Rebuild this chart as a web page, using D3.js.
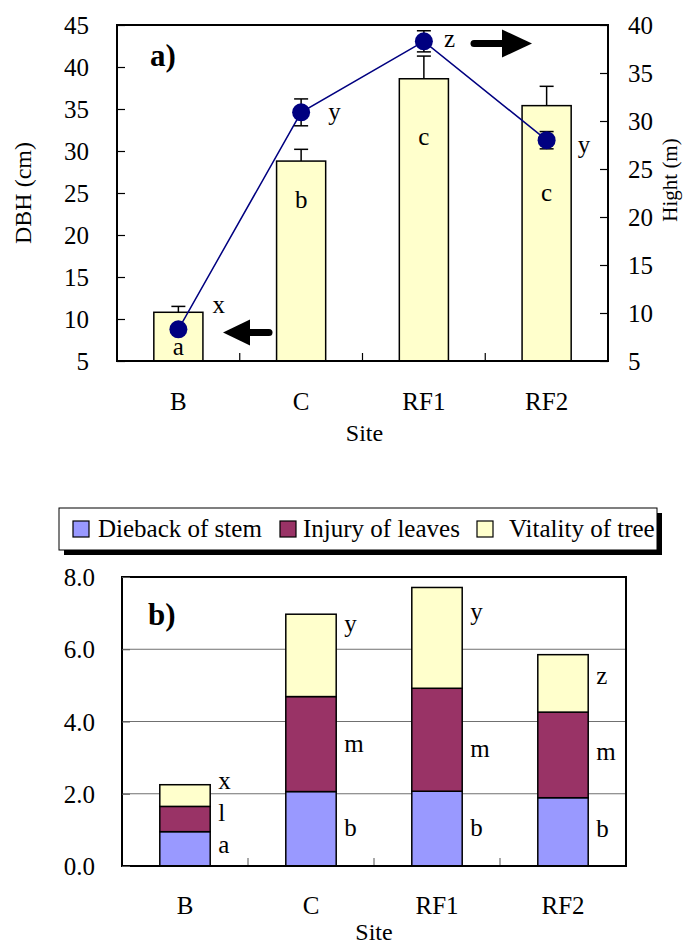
<!DOCTYPE html>
<html>
<head>
<meta charset="utf-8">
<script src="https://cdn.jsdelivr.net/npm/d3@7"></script>
<style>
  body { margin: 0; background: #fff; }
  svg text { font-family: "Liberation Serif", "Times New Roman", serif; fill: #000; }
</style>
</head>
<body>
<script>
// ---- data ----
var sites = ["B", "C", "RF1", "RF2"];

// panel a
var dbh = [10.8, 28.8, 38.6, 35.4];
var dbhErr = [0.7, 1.4, 2.7, 2.3];
var dbhLetters = ["a", "b", "c", "c"];
var dbhLetterAt = [5.7, 23.2, 30.7, 24.0];      // value where the letter sits
var height = [8.3, 30.9, 38.3, 28.0];
var heightErr = [0.3, 1.4, 1.1, 0.9];
var heightLetters = ["x", "y", "z", "y"];
var heightLetterAt = [10.0, 30.1, 37.7, 26.7];
var dbhTicks = [5, 10, 15, 20, 25, 30, 35, 40, 45];
var heightTicks = [5, 10, 15, 20, 25, 30, 35, 40];

// panel b
var seriesNames = ["Dieback of stem", "Injury of leaves", "Vitality of tree"];
var dieback = [0.95, 2.06, 2.07, 1.89];
var injury = [0.70, 2.63, 2.85, 2.37];
var vitality = [0.60, 2.28, 2.79, 1.59];
var diebackLetters = ["a", "b", "b", "b"];
var injuryLetters = ["l", "m", "m", "m"];
var vitalityLetters = ["x", "y", "y", "z"];
var declineTicks = [0, 2, 4, 6, 8];

// ---- layout ----
var W = 683, H = 946;
var colors = ["#9999FF", "#993366", "#FFFFCC"];
var svg = d3.select("body").append("svg").attr("width", W).attr("height", H);

// ================= panel a =================
var a = { left: 117, right: 608, top: 25, bottom: 361 };

var xA = d3.scaleBand().domain(sites).range([a.left, a.right]).paddingInner(0.6).paddingOuter(0.3);
var yL = d3.scaleLinear().domain([5, 45]).range([a.bottom, a.top]);
var yR = d3.scaleLinear().domain([5, 40]).range([a.bottom, a.top]);

var gA = svg.append("g");

// bars
gA.selectAll("rect.bar").data(sites).enter().append("rect")
    .attr("x", function(d) { return xA(d); })
    .attr("y", function(d, i) { return yL(dbh[i]); })
    .attr("width", xA.bandwidth())
    .attr("height", function(d, i) { return yL(5) - yL(dbh[i]); })
    .style("fill", "#FFFFCC").style("stroke", "#000").style("stroke-width", 1.5);

// dbh error bars (upper only)
sites.forEach(function(s, i) {
    var cx = xA(s) + xA.bandwidth() / 2;
    gA.append("line").attr("x1", cx).attr("x2", cx).attr("y1", yL(dbh[i])).attr("y2", yL(dbh[i] + dbhErr[i]))
        .style("stroke", "#000").style("stroke-width", 1.5);
    gA.append("line").attr("x1", cx - 7).attr("x2", cx + 7).attr("y1", yL(dbh[i] + dbhErr[i])).attr("y2", yL(dbh[i] + dbhErr[i]))
        .style("stroke", "#000").style("stroke-width", 1.5);
});

// bar letters
gA.selectAll("text.barl").data(sites).enter().append("text")
    .attr("x", function(d) { return xA(d) + xA.bandwidth() / 2; })
    .attr("y", function(d, i) { return yL(dbhLetterAt[i]); })
    .attr("text-anchor", "middle").style("font-size", "25px")
    .text(function(d, i) { return dbhLetters[i]; });

// separators along the bottom
var sepA = sites.slice(1).map(function(s) { return xA(s) - xA.step() * xA.paddingInner() / 2; });
sepA.forEach(function(x) {
    gA.append("line").attr("x1", x).attr("x2", x).attr("y1", a.bottom).attr("y2", a.bottom - 8)
        .style("stroke", "#000").style("stroke-width", 1.2);
});

// height line + points
var line = d3.line()
    .x(function(d, i) { return xA(sites[i]) + xA.bandwidth() / 2; })
    .y(function(d) { return yR(d); });
gA.append("path").datum(height).attr("d", line)
    .style("fill", "none").style("stroke", "#000080").style("stroke-width", 1.5);

sites.forEach(function(s, i) {
    var cx = xA(s) + xA.bandwidth() / 2;
    var hi = yR(height[i] + heightErr[i]), lo = yR(height[i] - heightErr[i]);
    gA.append("line").attr("x1", cx).attr("x2", cx).attr("y1", hi).attr("y2", lo)
        .style("stroke", "#000").style("stroke-width", 1.5);
    [hi, lo].forEach(function(y) {
        gA.append("line").attr("x1", cx - 7).attr("x2", cx + 7).attr("y1", y).attr("y2", y)
            .style("stroke", "#000").style("stroke-width", 1.5);
    });
});
gA.selectAll("circle.pt").data(height).enter().append("circle")
    .attr("cx", function(d, i) { return xA(sites[i]) + xA.bandwidth() / 2; })
    .attr("cy", function(d) { return yR(d); })
    .attr("r", 9).style("fill", "#000080");

var hDx = [34, 27, 20, 31];
gA.selectAll("text.hl").data(sites).enter().append("text")
    .attr("x", function(d, i) { return xA(d) + xA.bandwidth() / 2 + hDx[i]; })
    .attr("y", function(d, i) { return yR(heightLetterAt[i]); })
    .style("font-size", "25px")
    .text(function(d, i) { return heightLetters[i]; });

// arrows
var ay1 = 332.5, ax1 = 223;
gA.append("path").attr("d", "M" + ax1 + "," + ay1 + "L" + (ax1 + 27) + "," + (ay1 - 13) + "L" + (ax1 + 27) + "," + (ay1 + 13) + "Z").style("fill", "#000");
gA.append("line").attr("x1", ax1 + 24).attr("x2", ax1 + 46).attr("y1", ay1).attr("y2", ay1)
    .style("stroke", "#000").style("stroke-width", 7).style("stroke-linecap", "round");
var ay2 = 43.5, ax2 = 532;
gA.append("path").attr("d", "M" + ax2 + "," + ay2 + "L" + (ax2 - 30) + "," + (ay2 - 14) + "L" + (ax2 - 30) + "," + (ay2 + 14) + "Z").style("fill", "#000");
gA.append("line").attr("x1", ax2 - 26).attr("x2", ax2 - 58).attr("y1", ay2).attr("y2", ay2)
    .style("stroke", "#000").style("stroke-width", 7).style("stroke-linecap", "round");

// frame
gA.append("rect").attr("x", a.left).attr("y", a.top).attr("width", a.right - a.left).attr("height", a.bottom - a.top)
    .style("fill", "none").style("stroke", "#000").style("stroke-width", 2);

// axes
var axL = gA.append("g").attr("transform", "translate(" + a.left + ",0)")
    .call(d3.axisLeft(yL).tickValues(dbhTicks).tickSizeInner(-8).tickSizeOuter(0).tickPadding(28));
var axR = gA.append("g").attr("transform", "translate(" + a.right + ",0)")
    .call(d3.axisRight(yR).tickValues(heightTicks).tickSizeInner(-8).tickSizeOuter(0).tickPadding(20));
var axB = gA.append("g").attr("transform", "translate(0," + a.bottom + ")")
    .call(d3.axisBottom(xA).tickSize(0).tickPadding(31));
[axL, axR, axB].forEach(function(ax) {
    ax.select(".domain").remove();
    ax.selectAll("line").style("stroke", "#000").style("stroke-width", 1.2);
    ax.selectAll("text").style("font-size", "25px").style("font-family", "Liberation Serif");
});
axL.selectAll("text").attr("dy", "0.34em");
axR.selectAll("text").attr("dy", "0.34em");

gA.append("text").attr("x", 150).attr("y", 66).style("font-size", "31px").style("font-weight", "bold").text("a)");
gA.append("text").attr("x", (a.left + a.right) / 2 + 2).attr("y", 441).attr("text-anchor", "middle")
    .style("font-size", "24px").text("Site");
gA.append("text").attr("transform", "translate(31,193) rotate(-90)").attr("text-anchor", "middle")
    .style("font-size", "24px").text("DBH (cm)");
gA.append("text").attr("transform", "translate(677,180) rotate(-90)").attr("text-anchor", "middle")
    .style("font-size", "21px").text("Hight (m)");

// ================= legend =================
var lg = svg.append("g");
lg.append("rect").attr("x", 64).attr("y", 513).attr("width", 598).attr("height", 42).style("fill", "#000");
lg.append("rect").attr("x", 59).attr("y", 508).attr("width", 598).attr("height", 42)
    .style("fill", "#fff").style("stroke", "#000").style("stroke-width", 1);
var legX = [73, 280, 477], legDx = [25, 23, 32];
seriesNames.forEach(function(n, i) {
    lg.append("rect").attr("x", legX[i]).attr("y", 521).attr("width", 16).attr("height", 16)
        .style("fill", colors[i]).style("stroke", "#000").style("stroke-width", 1.2);
    lg.append("text").attr("x", legX[i] + legDx[i]).attr("y", 537).style("font-size", "25px").text(n);
});

// ================= panel b =================
var b = { left: 122, right: 626, top: 577, bottom: 866 };
var xB = d3.scaleBand().domain(sites).range([b.left, b.right]).paddingInner(0.6).paddingOuter(0.3);
var yB = d3.scaleLinear().domain([0, 8]).range([b.bottom, b.top]);
var gB = svg.append("g");

// grid
gB.selectAll("line.grid").data([2, 4, 6]).enter().append("line")
    .attr("x1", b.left).attr("x2", b.right)
    .attr("y1", function(d) { return yB(d); }).attr("y2", function(d) { return yB(d); })
    .style("stroke", "#707070").style("stroke-width", 1);

var table = sites.map(function(s, i) { return { site: s, d: dieback[i], inj: injury[i], v: vitality[i] }; });
var stack = d3.stack().keys(["d", "inj", "v"])(table);
var letterSets = [diebackLetters, injuryLetters, vitalityLetters];
// small nudges of the letters from the segment middle, in value units
var letterNudge = [[0.08, 0, 0, 0.07], [0.15, 0, -0.27, 0.07], [0.4, 0.85, 0.7, 0.2]];

stack.forEach(function(layer, k) {
    gB.selectAll("rect.s" + k).data(layer).enter().append("rect")
        .attr("x", function(d) { return xB(d.data.site); })
        .attr("y", function(d) { return yB(d[1]); })
        .attr("width", xB.bandwidth())
        .attr("height", function(d) { return yB(d[0]) - yB(d[1]); })
        .style("fill", colors[k]).style("stroke", "#000").style("stroke-width", 1.5);
});
stack.forEach(function(layer, k) {
    gB.selectAll("text.l" + k).data(layer).enter().append("text")
        .attr("x", function(d) { return xB(d.data.site) + xB.bandwidth() + 8; })
        .attr("y", function(d, i) { return yB((d[0] + d[1]) / 2 + letterNudge[k][i]); })
        .attr("dy", "0.3em")
        .style("font-size", "25px")
        .text(function(d, i) { return letterSets[k][i]; });
});

var sepB = sites.slice(1).map(function(s) { return xB(s) - xB.step() * xB.paddingInner() / 2; });
sepB.forEach(function(x) {
    gB.append("line").attr("x1", x).attr("x2", x).attr("y1", b.bottom).attr("y2", b.bottom - 8)
        .style("stroke", "#555").style("stroke-width", 1);
});

gB.append("rect").attr("x", b.left).attr("y", b.top).attr("width", b.right - b.left).attr("height", b.bottom - b.top)
    .style("fill", "none").style("stroke", "#000").style("stroke-width", 2);

var axBL = gB.append("g").attr("transform", "translate(" + b.left + ",0)")
    .call(d3.axisLeft(yB).tickValues(declineTicks).tickFormat(d3.format(".1f")).tickSizeInner(-8).tickSizeOuter(0).tickPadding(27));
var axBB = gB.append("g").attr("transform", "translate(0," + b.bottom + ")")
    .call(d3.axisBottom(xB).tickSize(0).tickPadding(30));
[axBL, axBB].forEach(function(ax) {
    ax.select(".domain").remove();
    ax.selectAll("line").style("stroke", "#555").style("stroke-width", 1);
    ax.selectAll("text").style("font-size", "25px").style("font-family", "Liberation Serif");
});
axBL.selectAll("text").attr("dy", "0.34em");

gB.append("text").attr("x", 148).attr("y", 625).style("font-size", "31px").style("font-weight", "bold").text("b)");
gB.append("text").attr("x", (b.left + b.right) / 2).attr("y", 940).attr("text-anchor", "middle")
    .style("font-size", "24px").text("Site");

svg.append("clipPath").attr("id", "ylabclip").append("rect").attr("x", 0).attr("y", 653).attr("width", 60).attr("height", 200);
gB.append("text").attr("clip-path", "url(#ylabclip)")
    .attr("transform", "translate(41,788) rotate(-90)").attr("text-anchor", "start")
    .style("font-size", "25px").text("Decline scale");
</script>
</body>
</html>
